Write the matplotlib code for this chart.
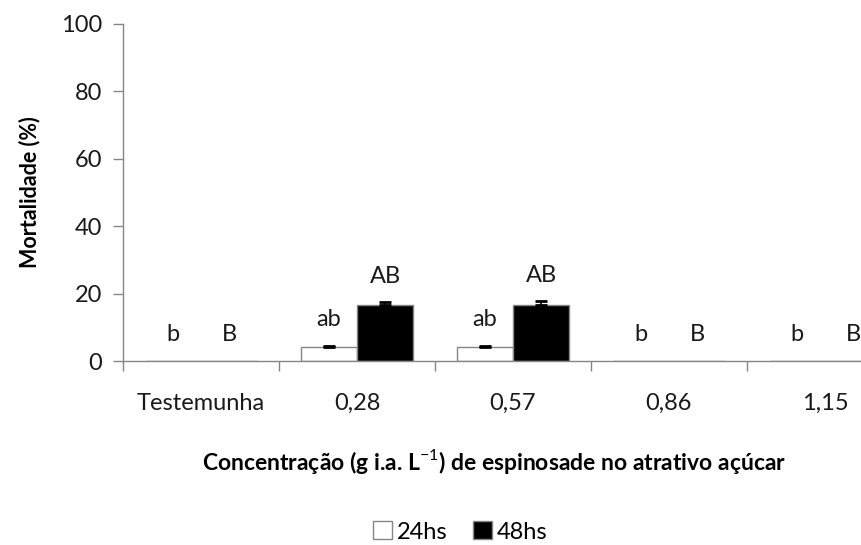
import matplotlib
matplotlib.use("Agg")
import matplotlib.pyplot as plt
import numpy as np
from matplotlib.patches import Patch

plt.rcParams['font.family'] = ['Lato', 'DejaVu Sans']
plt.rcParams['mathtext.fontset'] = 'custom'
plt.rcParams['mathtext.rm'] = 'Lato'
plt.rcParams['mathtext.bf'] = 'Lato:bold'

categories = ["Testemunha", "0,28", "0,57", "0,86", "1,15"]
mort_24h = [0.0, 4.17, 4.17, 0.0, 0.0]
mort_48h = [0.0, 16.67, 16.67, 0.0, 0.0]
err_24h = [0.0, 0.3, 0.3, 0.0, 0.0]
err_48h = [0.0, 0.8, 1.1, 0.0, 0.0]
letters_24h = ["b", "ab", "ab", "b", "b"]
letters_48h = ["B", "AB", "AB", "B", "B"]

W, H = 861, 545
fig = plt.figure(figsize=(W / 100, H / 100), dpi=100)
ax = fig.add_axes([123 / W, (H - 361) / H, (W - 123) / W, 337 / H])

axis_gray = "#868686"
text_col = "#1a1a1a"
fs = 17
x = np.arange(len(categories))
bw = 0.36

ax.bar(x - bw / 2, mort_24h, bw, color="white", edgecolor=axis_gray, linewidth=1.0, zorder=2)
ax.bar(x + bw / 2, mort_48h, bw, color="black", edgecolor=axis_gray, linewidth=1.0, zorder=2)

for xs, vals, errs in ((x - bw / 2, mort_24h, err_24h), (x + bw / 2, mort_48h, err_48h)):
    for xi, v, e in zip(xs, vals, errs):
        if e > 0:
            ax.errorbar(xi, v, yerr=[[0], [e]], fmt="none", ecolor="black", elinewidth=1.2,
                        capsize=4.5, capthick=2, zorder=3)

for xs, vals, errs, labs in ((x - bw / 2, mort_24h, err_24h, letters_24h),
                             (x + bw / 2, mort_48h, err_48h, letters_48h)):
    for xi, v, e, t in zip(xs, vals, errs, labs):
        ax.text(xi, v + e + 4.6, t, ha="center", va="bottom", fontsize=fs, color=text_col)

ax.set_ylim(0, 100)
ax.set_yticks(np.arange(0, 101, 20))

ax.set_xticks(np.arange(-0.5, len(categories), 1.0))
ax.set_xticklabels([])
ax.set_xticks(x, minor=True)
ax.set_xticklabels(categories, minor=True, fontsize=fs, color=text_col)
ax.set_xlim(-0.5, (W - 201) / 156)
ax.tick_params(axis="x", which="minor", length=0, pad=23)
ax.tick_params(axis="x", which="major", length=7, color=axis_gray, width=1)
ax.tick_params(axis="y", length=7, color=axis_gray, width=1, labelsize=fs,
               labelcolor=text_col, pad=8)

for s in ["top", "right"]:
    ax.spines[s].set_visible(False)
for s in ["left", "bottom"]:
    ax.spines[s].set_color(axis_gray)
    ax.spines[s].set_linewidth(1.0)

ax.set_ylabel("Mortalidade (%)", fontsize=15.5, fontweight="bold", labelpad=15)
fig.text(494 / W, 1 - 461 / H,
         "Concentração (g i.a. L$^{\\mathrm{-1}}$) de espinosade no atrativo açúcar",
         ha="center", va="center", fontsize=16.5, fontweight="bold")

handles = [Patch(facecolor="white", edgecolor=axis_gray, label="24hs"),
           Patch(facecolor="black", edgecolor=axis_gray, label="48hs")]
fig.legend(handles=handles, loc="center", bbox_to_anchor=(460 / W, 1 - 532 / H),
           ncol=2, frameon=False, fontsize=fs, handlelength=0.8, handleheight=0.8,
           handletextpad=0.2, columnspacing=1.1, borderpad=0.2)

fig.savefig("out.png", dpi=100)
